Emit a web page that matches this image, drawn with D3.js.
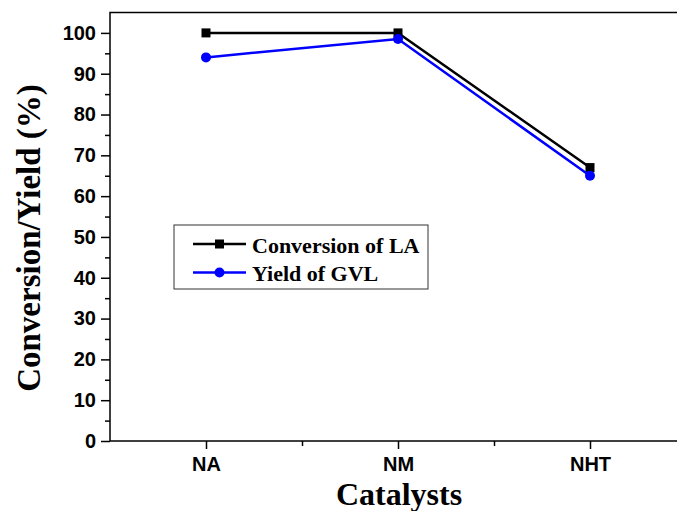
<!DOCTYPE html>
<html>
<head>
<meta charset="utf-8">
<script src="https://cdn.jsdelivr.net/npm/d3@7"></script>
<style>
  body { margin: 0; background: #fff; }
  svg { display: block; }
</style>
</head>
<body>
<script>
// données
const catalysts = ["NA", "NM", "NHT"];
const conversionLA = [100, 100, 67];
const yieldGVL = [94, 98.5, 65];
const yTicks = [0, 10, 20, 30, 40, 50, 60, 70, 80, 90, 100];

const W = 677, H = 511;
const gauche = 110, haut = 12.5, bas = 441, droite = 686;
const sans = 'Arial, "Liberation Sans", sans-serif';
const serif = '"Times New Roman", "Liberation Serif", serif';

const svg = d3.select('body')
  .append('svg')
  .attr('width', W)
  .attr('height', H);

// échelles
const x = d3.scaleLinear().domain([0.5, 3.5]).range([gauche, droite]);
const y = d3.scaleLinear().domain([0, 105]).range([bas, haut]);

// cadre
svg.append('rect')
  .attr('x', gauche).attr('y', haut)
  .attr('width', droite - gauche).attr('height', bas - haut)
  .attr('fill', 'none').attr('stroke', '#000').attr('stroke-width', 1.5);

function styler(g) {
  g.select('.domain').remove();
  g.selectAll('.tick line').attr('stroke-width', 1.5);
  g.selectAll('.tick text')
    .style('font-family', sans).style('font-weight', 'bold')
    .style('font-size', '20px').attr('fill', '#000');
}

// axe Y : graduations majeures et mineures
svg.append('g')
  .attr('transform', `translate(${gauche},0)`)
  .call(d3.axisLeft(y).tickValues(yTicks).tickSize(9).tickPadding(5).tickFormat(d3.format('d')))
  .call(styler);
svg.append('g')
  .attr('transform', `translate(${gauche},0)`)
  .call(d3.axisLeft(y).tickValues(d3.range(5, 105, 10)).tickSize(5).tickFormat(''))
  .call(styler);

// axe X
svg.append('g')
  .attr('transform', `translate(0,${bas})`)
  .call(d3.axisBottom(x).tickValues([1, 2, 3]).tickSize(8).tickPadding(8)
    .tickFormat(d => catalysts[d - 1]))
  .call(styler);
svg.append('g')
  .attr('transform', `translate(0,${bas})`)
  .call(d3.axisBottom(x).tickValues([1.5, 2.5]).tickSize(5).tickFormat(''))
  .call(styler);

// titres
svg.append('text')
  .attr('x', 399).attr('y', 505)
  .attr('text-anchor', 'middle')
  .style('font-family', serif)
  .style('font-weight', 'bold').style('font-size', '32px')
  .text('Catalysts');
svg.append('text')
  .attr('transform', `translate(40,238) rotate(-90)`)
  .attr('text-anchor', 'middle')
  .style('font-family', serif)
  .style('font-weight', 'bold').style('font-size', '33px')
  .text('Conversion/Yield (%)');

// séries
const series = [
  { name: 'Conversion of LA', values: conversionLA, color: '#000', shape: 'square' },
  { name: 'Yield of GVL', values: yieldGVL, color: '#0000ff', shape: 'circle' }
];
const line = d3.line().x((d, i) => x(i + 1)).y(d => y(d));

function marker(g, s, cx, cy) {
  if (s.shape === 'square') {
    g.append('rect').attr('x', cx - 4.5).attr('y', cy - 4.5)
      .attr('width', 9).attr('height', 9).attr('fill', s.color);
  } else {
    g.append('circle').attr('cx', cx).attr('cy', cy).attr('r', 5).attr('fill', s.color);
  }
}

series.forEach(s => {
  svg.append('path')
    .attr('d', line(s.values))
    .attr('fill', 'none')
    .attr('stroke', s.color)
    .attr('stroke-width', 2.5);
  const g = svg.append('g');
  s.values.forEach((v, i) => marker(g, s, x(i + 1), y(v)));
});

// légende
const leg = svg.append('g');
leg.append('rect')
  .attr('x', 174).attr('y', 225).attr('width', 254).attr('height', 64)
  .attr('fill', '#fff').attr('stroke', '#333').attr('stroke-width', 1);
series.forEach((s, i) => {
  const ly = 244 + i * 28.5;
  leg.append('line')
    .attr('x1', 193).attr('x2', 246).attr('y1', ly).attr('y2', ly)
    .attr('stroke', s.color).attr('stroke-width', 2.5);
  marker(leg, s, 219.5, ly);
  leg.append('text')
    .attr('x', 252).attr('y', ly + 8.5)
    .style('font-family', serif)
    .style('font-weight', 'bold').style('font-size', '22px')
    .text(s.name);
});
</script>
</body>
</html>
